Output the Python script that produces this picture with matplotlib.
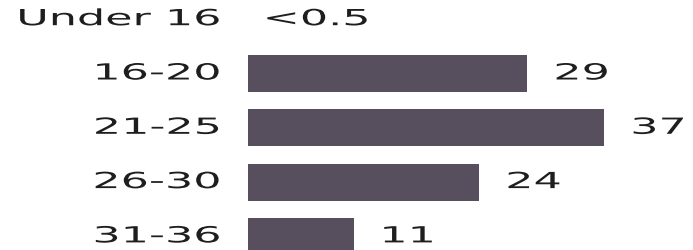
import matplotlib.pyplot as plt
from matplotlib.patheffects import AbstractPathEffect
from matplotlib.transforms import Affine2D

# data
ages = ["Under 16", "16-20", "21-25", "26-30", "31-36"]
shares = [0, 29, 37, 24, 11]          # "Under 16" is below 0.5
share_labels = ["<0.5", "29", "37", "24", "11"]

bar_color = "#574f5e"
text_color = "#1e1e1e"


class Stretch(AbstractPathEffect):
    # widen text horizontally, keeping one side fixed
    def __init__(self, sx, anchor="left"):
        super().__init__()
        self.sx = sx
        self.anchor = anchor

    def draw_path(self, renderer, gc, tpath, affine, rgbFace=None):
        bb = affine.transform_path(tpath).get_extents()
        x0 = bb.x0 if self.anchor == "left" else bb.x1
        t = affine + Affine2D().translate(-x0, 0).scale(self.sx, 1).translate(x0, 0)
        renderer.draw_path(gc, tpath, t, rgbFace)


fig = plt.figure(figsize=(6.93, 2.5), dpi=100)
ax = fig.add_axes([248 / 693, 0, 445 / 693, 1])

y = list(range(len(ages)))
ax.barh(y, shares, height=0.68, color=bar_color)

ax.set_xlim(0, 445 / 9.62)
ax.set_ylim(4 + 13.6 / 54.3, -19.2 / 54.3)

ax.set_yticks(y)
ax.set_yticklabels(ages, fontsize=16, color=text_color, va="center")
ax.tick_params(axis="y", length=0, pad=20)
for lab in ax.get_yticklabels():
    lab.set_path_effects([Stretch(2.0, "right")])
ax.set_xticks([])
for s in ax.spines.values():
    s.set_visible(False)

for yi, v, lab in zip(y, shares, share_labels):
    off = 28 if v > 0 else 17
    ax.annotate(lab, (v, yi), xytext=(off, 0), textcoords="offset pixels",
                va="center", ha="left", fontsize=16, color=text_color,
                path_effects=[Stretch(2.0, "left")], annotation_clip=False)

fig.savefig("out.png", dpi=100)
